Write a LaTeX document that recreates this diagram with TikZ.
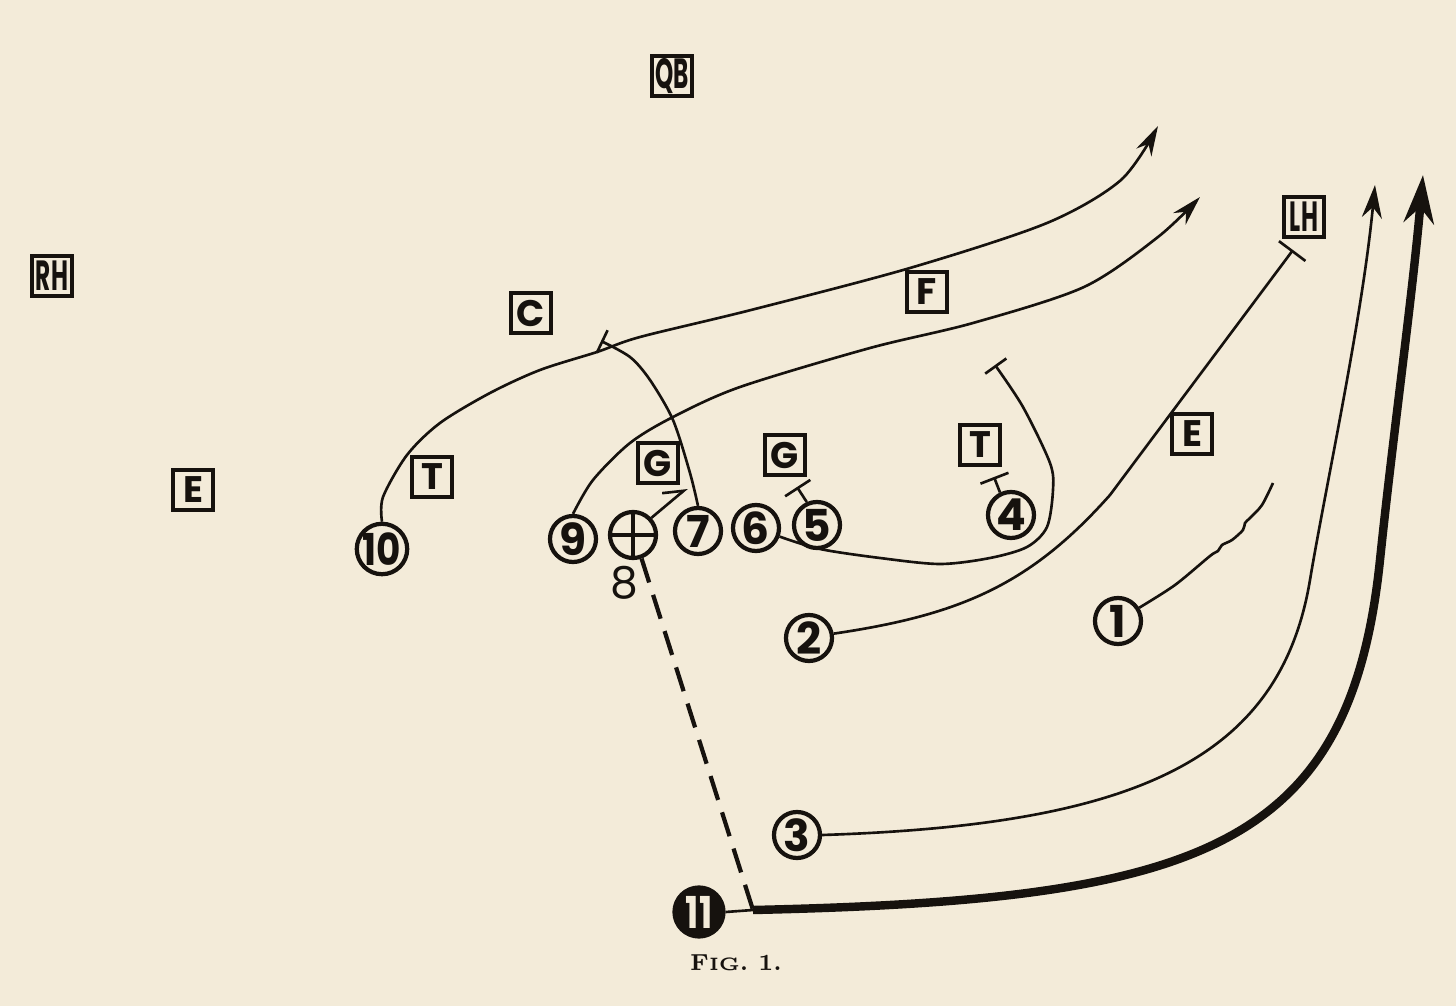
\documentclass[tikz,border=0pt]{standalone}
\usepackage{fontspec}
\usetikzlibrary{arrows.meta}
\newfontfamily\playfont{Poppins}
\definecolor{paper}{RGB}{243,235,217}
\definecolor{ink}{RGB}{22,18,14}

\begin{document}
\begin{tikzpicture}[x=0.01cm,y=-0.01cm,
        pman/.style={circle,draw=ink,line width=1.2pt,minimum size=4.6mm,inner sep=0pt,text=ink,font=\playfont\bfseries\fontsize{12.5}{12.5}\selectfont},
        pbox/.style={draw=ink,line width=1.2pt,minimum size=4.0mm,inner sep=0pt,text=ink,font=\playfont\bfseries\fontsize{10.5}{10.5}\selectfont},
        route/.style={draw=ink,line width=0.75pt},
        lead/.style={draw=ink,line width=2.4pt}]
    \fill[paper] (0,0) rectangle (1456,1006);
    \useasboundingbox (0,0) rectangle (1456,1006);

    \node[pbox] (qb) at (672,76) {\scalebox{0.55}[1]{\fontsize{12}{12}\selectfont QB}};
    \node[pbox] (rh) at (52,276) {\scalebox{0.55}[1]{\fontsize{12}{12}\selectfont RH}};
    \node[pbox] (lh) at (1304,217) {\scalebox{0.55}[1]{\fontsize{12}{12}\selectfont LH}};
    \node[pbox] (c) at (531,313) {C};
    \node[pbox] (f) at (927,292) {F};
    \node[pbox] (el) at (193,490) {E};
    \node[pbox] (tl) at (432,477) {T};
    \node[pbox] (gl) at (658,463) {G};
    \node[pbox] (gr) at (785,455) {G};
    \node[pbox] (tr) at (980,445) {T};
    \node[pbox] (er) at (1192,434) {E};

    \node[pman] (p10) at (382,549) {\scalebox{0.85}[1]{10}};
    \node[pman] (p9) at (573,539) {9};
    \node[pman,label={[text=ink,font=\playfont\fontsize{12.5}{12.5}\selectfont,xshift=-0.9mm,yshift=0.6mm]below:8}] (p8) at (633,535) {};
    \draw[ink,line width=0.9pt] (p8.north) -- (p8.south) (p8.west) -- (p8.east);
    \node[pman] (p7) at (698,531) {7};
    \node[pman] (p6) at (756,528) {6};
    \node[pman] (p5) at (817,525) {5};
    \node[pman] (p4) at (1011,515) {4};
    \node[pman] (p1) at (1118,621) {1};
    \node[pman] (p2) at (809,638) {2};
    \node[pman] (p3) at (797,835) {3};
    \node[pman,fill=ink,text=paper,minimum size=4.9mm] (p11) at (699,912) {\scalebox{0.8}[1]{11}};
    \coordinate (snap) at (753,910);

    \node[text=ink,font=\fontsize{6.6}{6.6}\selectfont\bfseries] (cap) at (736,963) {F{\fontsize{5.1}{5.2}\selectfont IG}. 1.};

    \draw[route,-{Stealth[length=3mm,width=1.7mm]}] plot[smooth] coordinates {(p10.north) (383,497) (407,455) (440,423) (490,393) (540,370) (597,352) (640,337) (751,310) (910,268) (1047,223) (1121,180) (1158,126)};
    \draw[route,-{Stealth[length=3mm,width=1.7mm]}] plot[smooth] coordinates {(p9.north) (593,480) (630,443) (673,417) (740,387) (870,348) (973,323) (1084,287) (1158,237) (1200,197)};
    \draw[route,-{Bar[width=2.5mm]}] plot[smooth] coordinates {(p7.north) (690,473) (673,420) (650,380) (630,357) (601,341)};
    \draw[route,-{Straight Barb[left,length=1.8mm,width=2.4mm]}] (p8.43) -- (687,488);
    \draw[route,-{Bar[width=3mm]}] (p5.114) -- (797,487);
    \draw[route,-{Bar[width=3mm]}] (p4.116) -- (994,477);
    \draw[route,-{Bar[width=2.6mm]}] plot[smooth] coordinates {(p6.-20) (820,549) (880,558) (940,564) (990,558) (1027,547) (1047,527) (1053,490) (1050,463) (1023,407) (995,365)};
    \draw[route,-{Bar[width=3.3mm]}] (p2.10) .. controls (960,615) and (1030,585) .. (1110,495) -- (1293,250);
    \draw[route] plot[smooth] coordinates {(p1.32) (1175,585) (1210,556) (1218,551) (1222,545) (1232,540) (1243,530) (1245,523) (1250,518) (1262,505) (1273,483)};
    \draw[route,-{Stealth[length=3.3mm,width=2mm]}] (p3.east) .. controls (1135,825) and (1280,760) .. (1310,580) .. controls (1325,490) and (1362,320) .. (1375,185);

    \draw[ink,line width=1.2pt,dash pattern=on 2.5mm off 1.3mm] (p8.-70) -- (snap);
    \draw[route] (p11.east) -- (snap);
    \draw[lead,-{Stealth[length=4.8mm,width=3mm]}] (snap) .. controls (1200,900) and (1350,850) .. (1380,560) .. controls (1393,435) and (1412,300) .. (1423,175);
\end{tikzpicture}
\end{document}
